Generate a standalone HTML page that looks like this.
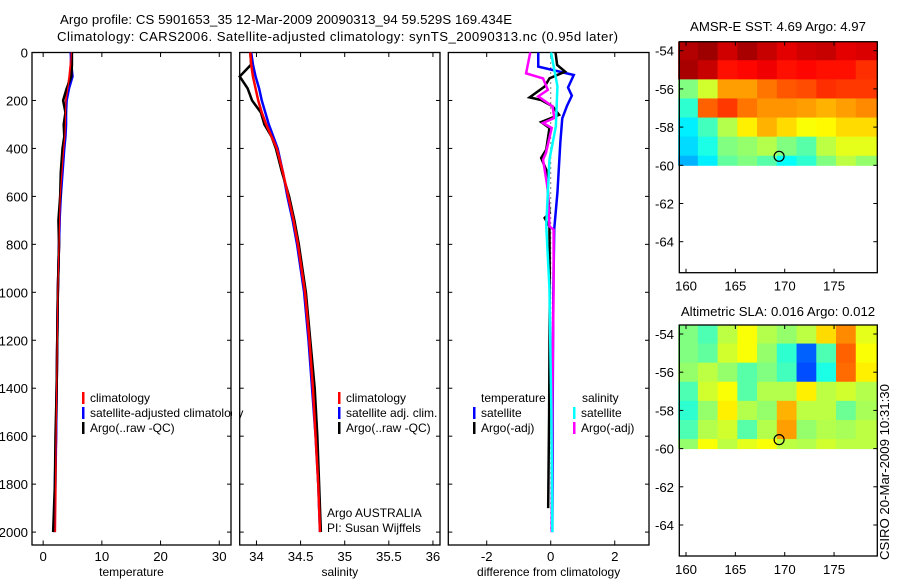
<!DOCTYPE html>
<html><head><meta charset="utf-8"><style>
body{margin:0;background:#fff;}
svg text{font-family:"Liberation Sans",sans-serif;font-size:12px;fill:#000;}
svg text.t{font-size:13.2px;}
</style></head><body>
<svg id="c" width="900" height="580" xmlns="http://www.w3.org/2000/svg">
<rect width="900" height="580" fill="#fff"/>
<text x="60" y="24" textLength="452" class="t">Argo profile: CS 5901653_35 12-Mar-2009 20090313_94 59.529S 169.434E</text>
<text x="57" y="41" textLength="561" class="t">Climatology: CARS2006. Satellite-adjusted climatology: synTS_20090313.nc (0.95d later)</text>
<text x="778" y="31" text-anchor="middle" class="t">AMSR-E SST: 4.69 Argo: 4.97</text>
<text x="778" y="316" text-anchor="middle" class="t">Altimetric SLA: 0.016 Argo: 0.012</text>
<text transform="translate(889,560) rotate(-90)" class="t">CSIRO 20-Mar-2009 10:31:30</text>
<g id="g"></g>
</svg>
<script>
// ---- data ----
const depths=[0,50,100,150,200,250,300,350,400,500,600,700,800,1000,1200,1400,1600,1800,2000];
const tempClim=[4.8,4.7,4.5,4.2,3.9,3.8,3.8,3.7,3.5,3.2,2.9,2.8,2.7,2.5,2.4,2.3,2.2,2.1,2.0];
const tempSat=[4.7,4.8,5.0,4.4,4.0,3.9,3.9,3.8,3.6,3.3,3.0,2.8,2.7,2.5,2.4,2.3,2.2,2.0,1.9];
const tempArgo=[4.9,4.9,4.8,4.0,3.4,3.8,3.5,3.6,3.3,3.0,2.9,2.6,2.7,2.5,2.4,2.3,2.1,2.0,1.7];
const salClim=[33.93,33.94,33.96,33.99,34.02,34.06,34.11,34.17,34.23,34.30,34.36,34.42,34.47,34.55,34.60,34.64,34.67,34.70,34.72];
const salSat=[33.94,33.96,33.99,34.03,34.06,34.10,34.14,34.19,34.24,34.30,34.35,34.41,34.46,34.54,34.59,34.63,34.67,34.70,34.72];
const salArgo=[33.93,33.94,33.81,33.90,33.95,34.05,34.09,34.17,34.22,34.29,34.37,34.43,34.48,34.56,34.61,34.66,34.69,34.71,34.73];
const dTempSatDepth=[0,59,94,146,180,222,275,375,583,735,1000,1500,2000];
const dTempSat=[-0.39,-0.39,0.72,0.54,0.66,0.51,0.36,0.3,0.21,0.11,0.08,0.06,0.05];
const dSalSatDepth=[0,141,308,447,722,985,1500,2000];
const dSalSat=[0.01,0.21,0.16,-0.04,-0.14,-0.04,0.02,0.05];
const dSalArgoDepth=[0,87,108,156,183,225,273,294,315,419,447,572,725,739,989,1300,1600,2000];
const dSalArgo=[-0.64,-0.77,-0.24,-0.09,-0.39,0.06,0.11,-0.24,0.03,-0.15,-0.24,-0.09,-0.04,0.09,0.09,0.06,0.04,0.03];
const dTempArgoDepth=[0,52,80,108,142,187,198,225,260,290,315,405,440,489,670,690,725,1000,1500,1900];
const dTempArgo=[0.15,0.2,0.45,-0.04,-0.19,-0.66,-0.3,0.06,0.26,-0.3,-0.04,-0.14,-0.3,-0.14,-0.04,-0.19,-0.04,-0.03,-0.05,-0.08];
const depthTicks=[0,200,400,600,800,1000,1200,1400,1600,1800,2000];
const tempTicks=[0,10,20,30];
const salTicks=[34,34.5,35,35.5,36];
const diffTicks=[-2,0,2];
const lonTicks=[160,165,170,175];
const latTicks=[-54,-56,-58,-60,-62,-64];
const mapLons=[159.2,161.2,163.2,165.2,167.2,169.2,171.2,173.2,175.2,177.2];
const mapLats=[-53.56,-54.5,-55.5,-56.5,-57.5,-58.5,-59.5];
const sstGrid=[
[0.95,0.97,0.92,0.96,0.93,0.9,0.92,0.93,0.9,0.91],
[0.96,0.93,0.86,0.87,0.89,0.86,0.87,0.86,0.86,0.83],
[0.5,0.58,0.72,0.72,0.76,0.79,0.8,0.83,0.82,0.82],
[0.42,0.78,0.82,0.76,0.73,0.73,0.72,0.7,0.72,0.74],
[0.36,0.44,0.55,0.64,0.7,0.66,0.62,0.63,0.66,0.66],
[0.34,0.4,0.5,0.52,0.55,0.5,0.46,0.56,0.6,0.6],
[0.3,0.36,0.47,0.5,0.46,0.38,0.42,0.5,0.56,0.52]];
const slaGrid=[
[0.5,0.45,0.56,0.62,0.55,0.52,0.56,0.66,0.74,0.6],
[0.5,0.47,0.58,0.62,0.52,0.42,0.22,0.45,0.78,0.62],
[0.52,0.56,0.52,0.46,0.5,0.44,0.2,0.4,0.77,0.64],
[0.45,0.58,0.62,0.46,0.55,0.55,0.64,0.56,0.58,0.55],
[0.42,0.52,0.64,0.55,0.52,0.7,0.56,0.56,0.48,0.54],
[0.45,0.55,0.58,0.46,0.55,0.72,0.52,0.55,0.54,0.56],
[0.52,0.62,0.56,0.6,0.62,0.56,0.55,0.58,0.56,0.56]];
const argoLon=169.434, argoLat=-59.529;

const NS='http://www.w3.org/2000/svg';
const G=document.getElementById('g');
function mk(t,a,p){const e=document.createElementNS(NS,t);for(const k in a)e.setAttribute(k,a[k]);(p||G).appendChild(e);return e;}
function yD(d){return 52.5+d*0.2398;}
function jet(v){v=Math.max(0,Math.min(1,v));const r=Math.min(4*v-1.5,-4*v+4.5),g=Math.min(4*v-0.5,-4*v+3.5),b=Math.min(4*v+0.5,-4*v+2.5);const c=x=>Math.round(255*Math.max(0,Math.min(1,x)));return `rgb(${c(r)},${c(g)},${c(b)})`;}

function panel(name,x0,x1,xmin,xmax,ticks,xlabel,showY){
  const sx=v=>x0+(v-xmin)/(xmax-xmin)*(x1-x0);
  const box=mk('rect',{x:x0,y:52.5,width:x1-x0,height:492.5,fill:'none',stroke:'#000','stroke-width':1.3});
  
  
  ticks.forEach(t=>{const x=sx(t);
    mk('line',{x1:x,x2:x,y1:52.5,y2:57,stroke:'#000'});mk('line',{x1:x,x2:x,y1:545,y2:540.5,stroke:'#000'});
    const tx=mk('text',{x:x,y:561,'text-anchor':'middle','class':'t'});tx.textContent=t;
    
    });
  depthTicks.forEach(d=>{const y=yD(d);
    mk('line',{x1:x0,x2:x0+4,y1:y,y2:y,stroke:'#000'});mk('line',{x1:x1,x2:x1-4,y1:y,y2:y,stroke:'#000'});
    if(showY){const tx=mk('text',{x:28,y:y+5,'text-anchor':'end','class':'t'});tx.textContent=d;
      
      }});
  const xl=mk('text',{x:(x0+x1)/2,y:576,'text-anchor':'middle'});xl.textContent=xlabel;
  
  
  return sx;
}
function line(sx,ds,vs,col,nm,w){
  const p=mk('polyline',{points:ds.map((d,i)=>sx(vs[i])+','+yD(d)).join(' '),fill:'none',stroke:col,'stroke-width':w||2.5});
  
  
}
function legend(x,y,col,label,nm){
  mk('rect',{x:x,y:y-10,width:2.5,height:12,fill:col});
  const t=mk('text',{x:x+8,y:y});t.textContent=label;
  
  
}
const s1=panel('temperature',32,231,-1.9,32,tempTicks,'temperature',true);
line(s1,depths,tempClim,'#f00','temp-climatology-line');
line(s1,depths,tempSat,'#00f','temp-satellite-line');
line(s1,depths,tempArgo,'#000','temp-argo-line');
line(s1,depths,tempClim,'#f00','temp-climatology-line-top',1.2);
legend(82,402,'#f00','climatology','legend-climatology');
legend(82,417,'#00f','satellite-adjusted climatology','legend-satellite-adjusted');
legend(82,432,'#000','Argo(..raw -QC)','legend-argo');
mk('rect',{x:232,y:390,width:7,height:30,fill:'#fff'});
const s2=panel('salinity',239.7,440,33.81,36.08,salTicks,'salinity',false);
line(s2,depths,salSat,'#00f','sal-satellite-line');
line(s2,depths,salArgo,'#000','sal-argo-line');
line(s2,depths,salClim,'#f00','sal-climatology-line');
legend(338,402,'#f00','climatology','legend-sal-climatology');
legend(338,417,'#00f','satellite adj. clim.','legend-sal-satellite');
legend(338,432,'#000','Argo(..raw -QC)','legend-sal-argo');
const a1=mk('text',{x:327,y:517});a1.textContent='Argo AUSTRALIA';


const a2=mk('text',{x:327,y:532});a2.textContent='PI: Susan Wijffels';


const s3=panel('difference',448.3,649,-3.2,3.07,diffTicks,'difference from climatology',false);
const zl=mk('line',{x1:s3(0),x2:s3(0),y1:yD(0),y2:yD(2000),stroke:'#000','stroke-dasharray':'1,4'});


line(s3,dTempSatDepth,dTempSat,'#00f','diff-temp-satellite-line');
line(s3,dTempArgoDepth,dTempArgo,'#000','diff-temp-argo-line');
line(s3,dSalArgoDepth,dSalArgo,'#f0f','diff-sal-argo-line');
line(s3,dSalSatDepth,dSalSat,'#0ff','diff-sal-satellite-line');
const lt=mk('text',{x:481,y:402});lt.textContent='temperature';


const ls=mk('text',{x:582,y:402});ls.textContent='salinity';


legend(473,417,'#00f','satellite','legend-diff-temp-satellite');
legend(473,432,'#000','Argo(-adj)','legend-diff-temp-argo');
legend(573,417,'#0ff','satellite','legend-diff-sal-satellite');
legend(573,432,'#f0f','Argo(-adj)','legend-diff-sal-argo');

function map(name,top,grid){
  const sx=lon=>686+(lon-160)*9.87;
  const sy=lat=>top+9+(-54-lat)*19.1;
  for(let r=0;r<grid.length;r++)for(let c=0;c<grid[r].length;c++){
    const la0=mapLats[r], la1=(r+1<mapLats.length)?mapLats[r+1]:-60;
    const lo0=mapLons[c], lo1=(c+1<mapLons.length)?mapLons[c+1]:179.4;
    const y0=r===0?top:sy(la0), y1=sy(la1);
    const cell=mk('rect',{x:sx(lo0),y:y0,width:sx(lo1)-sx(lo0)+0.5,height:y1-y0+0.5,fill:jet(grid[r][c])});
    
    
  }
  const box=mk('rect',{x:679.3,y:top,width:198,height:231,fill:'none',stroke:'#000','stroke-width':1.3});
  
  
  lonTicks.forEach(l=>{const x=sx(l);mk('line',{x1:x,x2:x,y1:top,y2:top+4,stroke:'#000'});mk('line',{x1:x,x2:x,y1:top+231,y2:top+227,stroke:'#000'});
    const t=mk('text',{x:x,y:top+249,'text-anchor':'middle','class':'t'});t.textContent=l;
    
    });
  latTicks.forEach(l=>{const y=sy(l);mk('line',{x1:679.3,x2:683.3,y1:y,y2:y,stroke:'#000'});mk('line',{x1:877.3,x2:873.3,y1:y,y2:y,stroke:'#000'});
    const t=mk('text',{x:674,y:y+5,'text-anchor':'end','class':'t'});t.textContent=l;
    
    });
  const cc=mk('circle',{cx:sx(argoLon),cy:sy(argoLat),r:5,fill:'none',stroke:'#000','stroke-width':1.2});
  
  
}
map('sst-map',41.7,sstGrid);
map('sla-map',325,slaGrid);
</script>
</body></html>
